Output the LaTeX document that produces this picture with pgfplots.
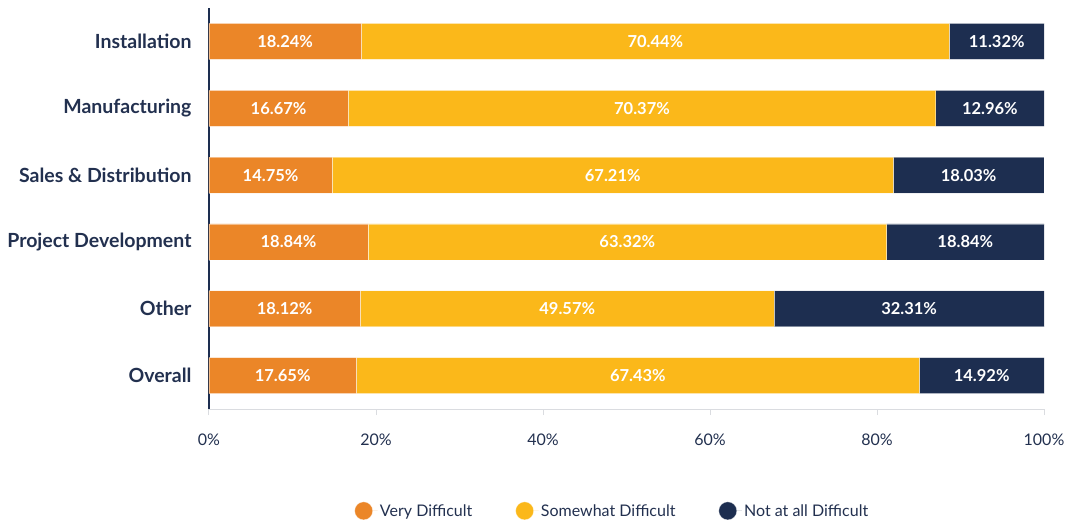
\documentclass[border=0pt]{standalone}
\usepackage{pgfplots}
\pgfplotsset{compat=1.18}
\usepackage{pgfplotstable}
\usepackage{fontspec}
\setmainfont{Lato}
\definecolor{cOr}{HTML}{EB8628}
\definecolor{cYe}{HTML}{FBB81A}
\definecolor{cNa}{HTML}{1D2E50}
\definecolor{cTx}{HTML}{22304F}
\definecolor{cGr}{HTML}{DADCE0}
% w = segment width as drawn, l = label as printed
\pgfplotstableread{
y w1 w2 w3 l1 l2 l3
0 17.65 67.43 14.92 17.65 67.43 14.92
1 18.12 49.57 32.31 18.12 49.57 32.31
2 19.04 62.12 18.84 18.84 63.32 18.84
3 14.75 67.21 18.03 14.75 67.21 18.03
4 16.67 70.37 12.96 16.67 70.37 12.96
5 18.24 70.44 11.32 18.24 70.44 11.32
}\data
\begin{document}
\begin{tikzpicture}[x=1pt,y=1pt]
\path[use as bounding box] (-209,-114) rectangle (858,409);
\begin{axis}[at={(0,0)}, anchor=south west, scale only axis,
  width=835pt, height=401pt,
  xbar stacked, bar width=36pt,
  xmin=0, xmax=100, ymin=-0.5, ymax=5.5,
  clip mode=individual,
  ytick={0,...,5},
  yticklabels={Overall,Other,Project Development,Sales \& Distribution,Manufacturing,Installation},
  xtick={0,20,...,100},
  xticklabel={\pgfmathprintnumber{\tick}\%},
  /pgf/number format/assume math mode=true,
  axis x line*=bottom, axis y line*=left,
  x axis line style={draw=cGr, line width=1pt},
  y axis line style={draw=cNa, line width=1.8pt},
  tick align=outside, major tick length=6pt,
  xtick style={draw=cGr, line width=1pt},
  ytick style={draw=none},
  yticklabel style={font=\fontsize{19.5}{22}\selectfont\bfseries, text=cTx, xshift=-8pt},
  xticklabel style={font=\fontsize{16}{19}\selectfont, text=cTx, yshift=-15pt},
  point meta=explicit symbolic,
  nodes near coords={\pgfplotspointmeta\%},
  nodes near coords style={anchor=center, text=white, font=\fontsize{16.5}{19}\selectfont\bfseries},
  legend style={at={(0.483,-0.254)}, anchor=center, draw=none, fill=none,
    legend columns=3, font=\fontsize{16}{19}\selectfont, text=cTx,
    /tikz/every even column/.append style={column sep=41pt}},
  legend image code/.code={\fill[#1] (0pt,0pt) circle (9pt); \path (9pt,0pt) -- (14pt,0pt);},
]
\addplot[fill=cOr, draw=white, draw opacity=0.45, line width=0.6pt] table[x=w1,y=y,meta=l1]{\data};
\addlegendentry{Very Difficult}
\addplot[fill=cYe, draw=white, draw opacity=0.45, line width=0.6pt] table[x=w2,y=y,meta=l2]{\data};
\addlegendentry{Somewhat Difficult}
\addplot[fill=cNa, draw=white, draw opacity=0.45, line width=0.6pt] table[x=w3,y=y,meta=l3]{\data};
\addlegendentry{Not at all Difficult}
\end{axis}
\end{tikzpicture}
\end{document}
